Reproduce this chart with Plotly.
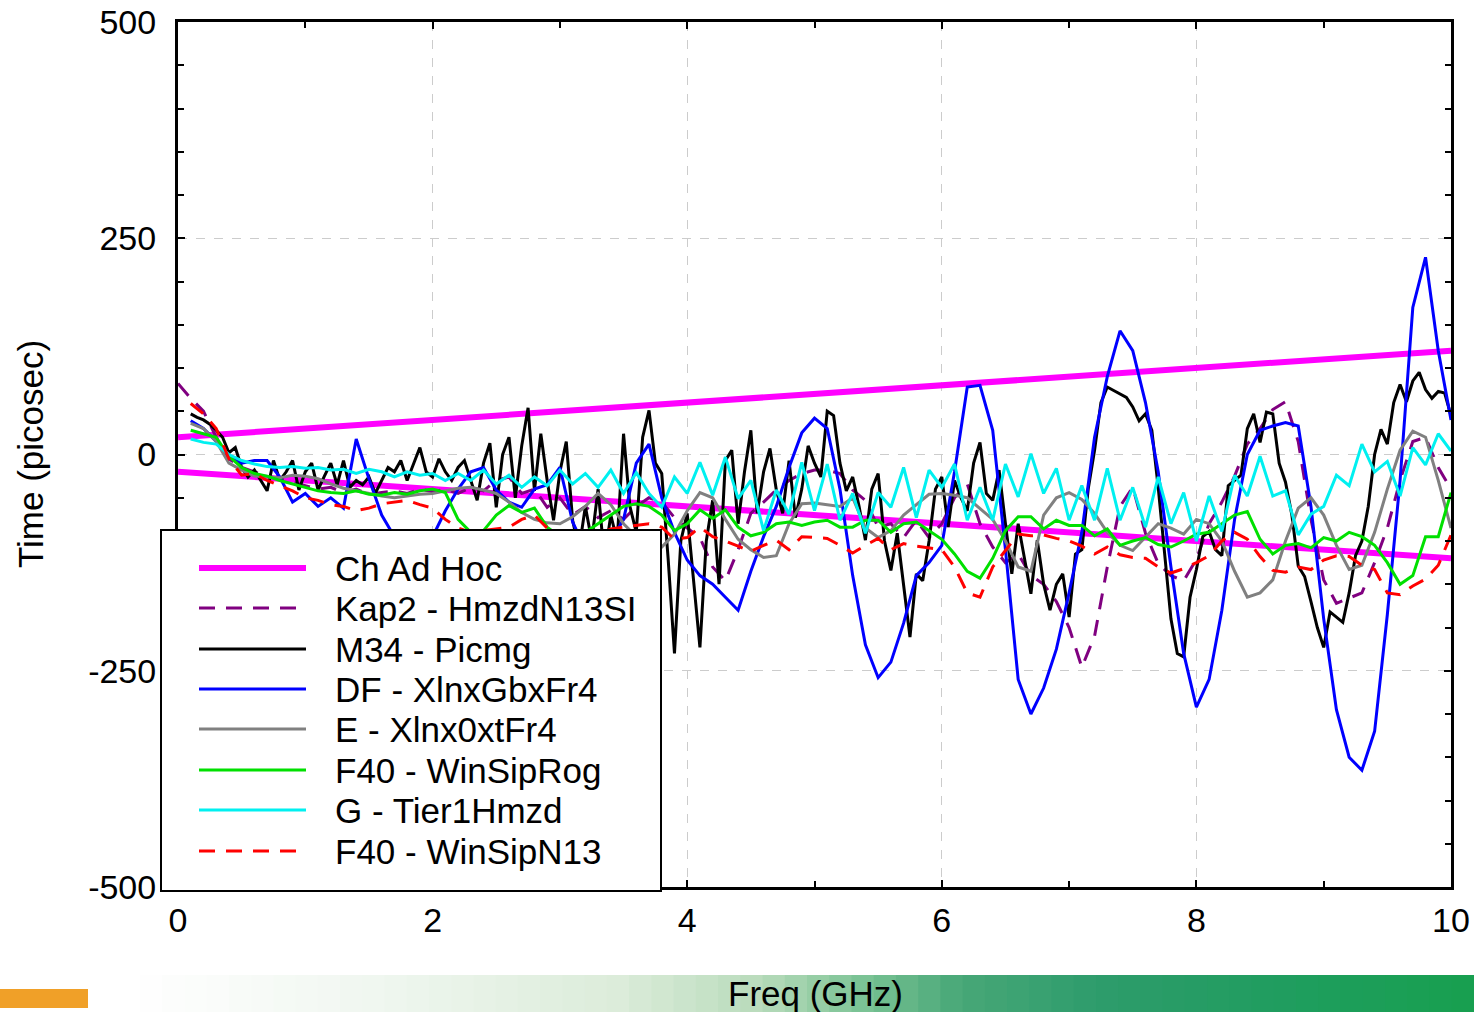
import plotly.graph_objects as go

# ---------------- data ----------------
series_names = ["Ch Ad Hoc", "Kap2 - HmzdN13SI", "M34 - Picmg", "DF - XlnxGbxFr4",
                "E - Xlnx0xtFr4", "F40 - WinSipRog", "G - Tier1Hmzd", "F40 - WinSipN13"]

x_ticks = [0, 2, 4, 6, 8, 10]
x_ticktext = ["0", "2", "4", "6", "8", "10"]
y_ticks = [-500, -250, 0, 250, 500]
y_ticktext = ["-500", "-250", "0", "250", "500"]

# frequency grids (GHz)
freq_01 = [round(0.1 * i, 2) for i in range(1, 101)]      # 0.1 .. 10.0
freq_00 = [round(0.1 * i, 2) for i in range(0, 101)]      # 0.0 .. 10.0
freq_005 = [round(0.05 * i, 2) for i in range(2, 201)]    # 0.10 .. 10.00

# Ch Ad Hoc limit lines (upper and lower)
adhoc_x = [0, 10, None, 0, 10]
adhoc_y = [20, 120, None, -20, -120]

kap2 = [82,
        65, 50, 20, -5, -15, -20, -25, -28, -32, -36,
        -40, -38, -44, -40, -46, -44, -42, -45, -40, -43,
        -40, -45, -38, -42, -30, -26, -45, -40, -61, -50,
        -70, -60, -73, -65, -75, -60, -50, -55, -73, -85,
        -96, -130, -146, -110, -68, -55, -41, -30, -22, -18,
        -18, -22, -41, -53, -84, -80, -96, -76, -96, -80,
        -50, -34, -80, -107, -125, -115, -140, -150, -170, -200,
        -246, -210, -130, -60, -38, -91, -126, -140, -146, -121,
        -80, -55, -25, 12, 30, 52, 61, 15, -75, -145,
        -172, -166, -160, -125, -85, -30, 15, 20, -15, -40]

m34 = [47, 43, 40, 35, 28, 20, 2, 8, -15, -26, -18, -30, -42, -7, -30, -20, -7, -41, -20, -10,
       -41, -25, -10, -35, -7, -38, -30, -35, -26, -45, -30, -15, -20, -7, -30, -10, 8, -20, -26, -5,
       -20, -30, -15, -7, -30, -53, -10, 13, -61, 0, 20, -50, 10, 54, -42, 24, -30, -76, -20, 15,
       -76, -110, -60, -100, -40, -120, -70, -100, 24, -60, -90, 20, 51, -10, -22, -120, -230, -100, -68, -150,
       -223, -100, -53, -150, -7, 5, -80, -20, 28, -68, -20, 7, -41, -68, -7, -73, -40, 10, -10, -26,
       50, 45, -10, -42, -26, -60, -99, -40, -22, -100, -134, -91, -150, -211, -138, -146, -100, -40, -26, -84,
       -30, -50, -65, -10, 14, -45, -53, -18, -80, -138, -80, -120, -161, -99, -150, -180, -150, -138, -188, -115,
       -110, -40, 5, 60, 78, 74, 70, 66, 55, 39, 47, 28, -38, -115, -190, -230, -234, -165, -133, -95,
       -89, -110, -117, -36, -30, -24, 30, 47, 14, 49, 47, -10, -32, -70, -129, -141, -170, -200, -223, -182,
       -188, -194, -160, -117, -100, -60, 0, 29, 12, 60, 81, 61, 85, 95, 75, 65, 73, 71, 45]

df = [39, 30, 15, -2, -10, -7, -7, -26, -55, -45,
      -60, -50, -62, 18, -28, -70, -95, -100, -90, -95,
      -65, -40, -20, -15, -41, -55, -61, -40, -35, -15,
      -78, -110, -120, -100, -75, -10, 12, -50, -90, -122,
      -140, -150, -165, -180, -135, -95, -60, -15, 25, 42,
      30, -40, -140, -220, -258, -240, -195, -140, -125, -105,
      -20, 78, 80, 28, -110, -260, -300, -270, -225, -160,
      -90, 20, 90, 143, 120, 60, -20, -130, -230, -292,
      -260, -180, -75, 0, 28, 33, 37, 33, -60, -190,
      -295, -350, -365, -320, -185, -30, 170, 228, 120, 40]

e_series = [36, 30, 15, -10, -18, -25, -26, -27, -24, -25,
            -28, -34, -39, -42, -45, -48, -50, -48, -46, -45,
            -42, -39, -38, -41, -45, -55, -67, -75, -79, -80,
            -72, -60, -45, -58, -80, -95, -105, -107, -92, -65,
            -44, -50, -75, -98, -110, -119, -117, -80, -57, -56,
            -58, -60, -50, -85, -96, -88, -70, -58, -46, -45,
            -47, -50, -62, -75, -100, -130, -135, -70, -50, -44,
            -52, -68, -90, -105, -111, -95, -80, -85, -92, -75,
            -80, -100, -135, -165, -160, -145, -100, -62, -50, -70,
            -105, -133, -128, -90, -40, 5, 27, 20, -30, -85]

f40_rog = [28, 24, 20, -2, -15, -22, -25, -30, -34, -38,
           -42, -44, -45, -42, -46, -47, -44, -46, -42, -40,
           -44, -75, -90, -88, -70, -59, -67, -62, -84, -95,
           -95, -90, -80, -70, -60, -57, -60, -70, -88, -80,
           -64, -74, -64, -84, -94, -90, -80, -78, -82, -78,
           -76, -84, -84, -76, -76, -90, -80, -78, -88, -98,
           -115, -135, -143, -120, -88, -72, -72, -86, -76, -82,
           -82, -94, -86, -105, -100, -96, -104, -107, -100, -92,
           -90, -80, -70, -66, -98, -115, -105, -103, -108, -96,
           -100, -90, -95, -105, -125, -150, -140, -95, -95, -44]

g_tier1 = [18, 14, 12, 0, -7, -11, -14, -15, -14, -16,
           -15, -18, -17, -22, -17, -20, -26, -20, -24, -22,
           -30, -22, -30, -18, -34, -24, -38, -26, -36, -18,
           -34, -22, -38, -18, -45, -21, -45, -61, -26, -45,
           -9, -47, -3, -51, -30, -88, -41, -69, -9, -65,
           -11, -76, -45, -91, -44, -61, -15, -73, -18, -38,
           -11, -76, -38, -76, -11, -49, 1, -45, -16, -76,
           -36, -76, -16, -76, -38, -84, -26, -80, -44, -100,
           -48, -89, -24, -48, -2, -48, -42, -93, -69, -60,
           -24, -36, 12, -20, -8, -48, 8, -12, 24, 4]

f40_n13 = [59, 47, 30, -5, -24, -22, -30, -36, -42, -50,
           -53, -58, -60, -65, -62, -57, -55, -53, -58, -62,
           -75, -85, -90, -88, -86, -84, -75, -70, -85, -95,
           -100, -98, -92, -86, -84, -82, -80, -84, -98, -96,
           -84, -95, -100, -106, -112, -105, -99, -110, -95, -96,
           -97, -105, -114, -105, -97, -110, -103, -106, -108, -110,
           -130, -160, -165, -130, -111, -92, -94, -93, -97, -100,
           -106, -115, -107, -116, -119, -120, -130, -137, -132, -125,
           -117, -100, -90, -98, -118, -134, -136, -130, -133, -122,
           -117, -118, -128, -133, -160, -162, -152, -144, -128, -93]

for nm, xs, ys in [("kap2", freq_00, kap2), ("m34", freq_005, m34), ("df", freq_01, df),
                   ("e", freq_01, e_series), ("rog", freq_01, f40_rog), ("g", freq_01, g_tier1),
                   ("n13", freq_01, f40_n13)]:
    assert len(xs) == len(ys), (nm, len(xs), len(ys))

# ---------------- styles ----------------
styles = [
    dict(color="#ff00ff", width=6, dash="solid"),
    dict(color="#800080", width=3, dash="16px,11px"),
    dict(color="#000000", width=3, dash="solid"),
    dict(color="#0000ff", width=3, dash="solid"),
    dict(color="#808080", width=3, dash="solid"),
    dict(color="#00e000", width=3, dash="solid"),
    dict(color="#00f0f0", width=3, dash="solid"),
    dict(color="#ff0000", width=3, dash="16px,11px"),
]
data_xy = [(adhoc_x, adhoc_y), (freq_00, kap2), (freq_005, m34), (freq_01, df),
           (freq_01, e_series), (freq_01, f40_rog), (freq_01, g_tier1), (freq_01, f40_n13)]

fig = go.Figure()
for name, (xs, ys), st in zip(series_names, data_xy, styles):
    fig.add_trace(go.Scatter(x=xs, y=ys, mode="lines", name=name,
                             line=dict(color=st["color"], width=st["width"], dash=st["dash"]),
                             showlegend=False, connectgaps=False))

FONT = "Liberation Sans, Arial, sans-serif"
W, H = 1474, 1012
L, R, T, B = 178, 23, 22, 125
PW, PH = W - L - R, H - T - B


def px_x(p):
    return (p - L) / PW


def px_y(p):
    return (H - B - p) / PH


shapes = []
annotations = []

# bottom banner gradient (slide background)
stops = [(140, (255, 255, 255)), (380, (240, 247, 240)), (620, (220, 236, 218)),
         (760, (185, 220, 188)), (860, (125, 196, 150)), (960, (72, 168, 120)),
         (1100, (46, 156, 108)), (1300, (31, 158, 94)), (1474, (24, 160, 80))]
nseg = 60
for i in range(nseg):
    xa = 140 + (1474 - 140) * i / nseg
    xb = 140 + (1474 - 140) * (i + 1) / nseg
    xm = (xa + xb) / 2
    for (p0, c0), (p1, c1) in zip(stops[:-1], stops[1:]):
        if p0 <= xm <= p1:
            t = (xm - p0) / (p1 - p0)
            col = tuple(int(c0[k] + (c1[k] - c0[k]) * t) for k in range(3))
            break
    shapes.append(dict(type="rect", xref="paper", yref="paper", layer="below",
                       x0=px_x(xa), x1=px_x(xb + 1), y0=px_y(1012), y1=px_y(975),
                       line=dict(width=0), fillcolor="rgb(%d,%d,%d)" % col))
shapes.append(dict(type="rect", xref="paper", yref="paper", layer="below",
                   x0=px_x(0), x1=px_x(88), y0=px_y(1008), y1=px_y(989),
                   line=dict(width=0), fillcolor="#f0a028"))

# custom legend box
shapes.append(dict(type="rect", xref="paper", yref="paper", layer="above",
                   x0=px_x(161), x1=px_x(661), y0=px_y(891), y1=px_y(530),
                   line=dict(color="black", width=2), fillcolor="white"))
row_y = [568, 608, 649, 689, 729, 770, 810, 851]
for name, st, ry in zip(series_names, styles, row_y):
    x_end = 296 if st["dash"] != "solid" else 306
    shapes.append(dict(type="line", xref="paper", yref="paper", layer="above",
                       x0=px_x(199), x1=px_x(x_end), y0=px_y(ry), y1=px_y(ry),
                       line=dict(color=st["color"], width=st["width"], dash=st["dash"])))
    annotations.append(dict(xref="paper", yref="paper", x=px_x(333), y=px_y(ry),
                            xanchor="left", yanchor="middle", showarrow=False,
                            text=name, font=dict(family=FONT, size=35, color="black")))

# axis titles
annotations.append(dict(xref="paper", yref="paper", x=px_x(30), y=px_y(454),
                        xanchor="center", yanchor="middle", showarrow=False, textangle=-90,
                        text="Time (picosec)", font=dict(family=FONT, size=35, color="black")))
annotations.append(dict(xref="paper", yref="paper", x=px_x(815), y=px_y(993),
                        xanchor="center", yanchor="middle", showarrow=False,
                        text="Freq (GHz)", font=dict(family=FONT, size=35, color="black")))

axis_common = dict(showline=True, linecolor="black", linewidth=3, mirror="ticks",
                   ticks="inside", ticklen=7, tickwidth=2, tickcolor="black",
                   showgrid=True, gridcolor="#cccccc", gridwidth=1, griddash="dash",
                   zeroline=False, automargin=False,
                   tickfont=dict(family=FONT, size=34, color="black"))

fig.update_layout(
    width=W, height=H,
    margin=dict(l=L, r=R, t=T, b=B, pad=0, autoexpand=False),
    paper_bgcolor="white", plot_bgcolor="white",
    showlegend=False,
    xaxis=dict(range=[0, 10], tickmode="array", tickvals=x_ticks, ticktext=x_ticktext,
               ticklabelstandoff=1,
               minor=dict(tickmode="linear", tick0=0, dtick=1, ticks="inside", ticklen=6,
                          tickwidth=2, tickcolor="black", showgrid=False),
               **axis_common),
    yaxis=dict(range=[-500, 500], tickmode="array", tickvals=y_ticks, ticktext=y_ticktext,
               ticklabelstandoff=12,
               minor=dict(tickmode="linear", tick0=0, dtick=50, ticks="inside", ticklen=6,
                          tickwidth=2, tickcolor="black", showgrid=False),
               **axis_common),
    shapes=shapes,
    annotations=annotations,
)

fig.write_html("out.html")
